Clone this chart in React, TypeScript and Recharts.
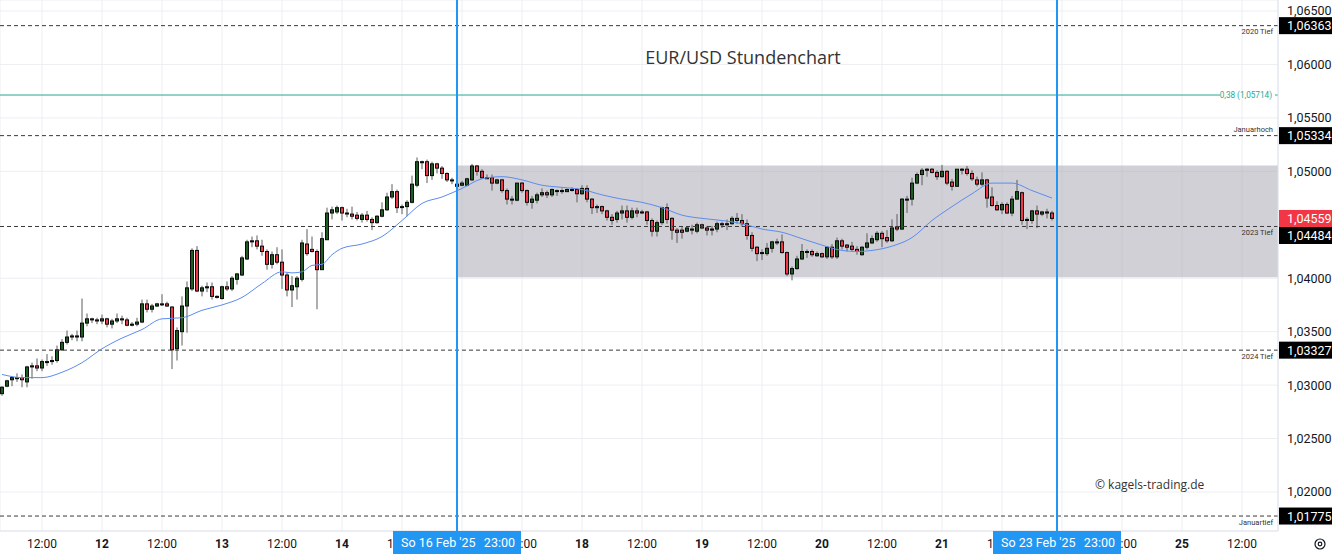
import React from 'react';
import {
  ComposedChart,
  Bar,
  Line,
  XAxis,
  YAxis,
  CartesianGrid,
  ReferenceLine,
  ReferenceArea,
} from 'recharts';

// ---------- DATA (EUR/USD hourly candles) ----------
const opens = [
  1.0292, 1.0299, 1.0305, 1.0306, 1.0307, 1.0303, 1.0317, 1.0318, 1.0316, 1.0322,
  1.0322, 1.0323, 1.0333, 1.0340, 1.0345, 1.0345, 1.0345, 1.0358, 1.0362, 1.0361,
  1.0360, 1.0362, 1.0357, 1.0360, 1.0362, 1.0361, 1.0356, 1.0357, 1.0359, 1.0376,
  1.0371, 1.0374, 1.0376, 1.0376, 1.0373, 1.0334, 1.0350, 1.0374, 1.0390, 1.0426,
  1.0388, 1.0391, 1.0392, 1.0383, 1.0381, 1.0392, 1.0390, 1.0399, 1.0403, 1.0418,
  1.0434, 1.0435, 1.0430, 1.0425, 1.0413, 1.0422, 1.0415, 1.0403, 1.0389, 1.0392,
  1.0399, 1.0432, 1.0427, 1.0425, 1.0408, 1.0436, 1.0461, 1.0462, 1.0466, 1.0461,
  1.0460, 1.0459, 1.0455, 1.0459, 1.0455, 1.0452, 1.0458, 1.0464, 1.0476, 1.0481,
  1.0467, 1.0467, 1.0471, 1.0487, 1.0509, 1.0509, 1.0496, 1.0507, 1.0503, 1.0498,
  1.0492, 1.0486, 1.0487, 1.0487, 1.0492, 1.0505, 1.0500, 1.0494, 1.0494, 1.0489,
  1.0492, 1.0482, 1.0474, 1.0473, 1.0489, 1.0482, 1.0471, 1.0473, 1.0478, 1.0480,
  1.0478, 1.0482, 1.0482, 1.0481, 1.0483, 1.0483, 1.0479, 1.0484, 1.0474, 1.0466,
  1.0467, 1.0463, 1.0457, 1.0455, 1.0461, 1.0463, 1.0457, 1.0463, 1.0462, 1.0462,
  1.0454, 1.0444, 1.0452, 1.0466, 1.0456, 1.0445, 1.0445, 1.0444, 1.0446, 1.0444,
  1.0450, 1.0447, 1.0445, 1.0446, 1.0451, 1.0450, 1.0451, 1.0456, 1.0454, 1.0451,
  1.0440, 1.0429, 1.0424, 1.0423, 1.0428, 1.0434, 1.0434, 1.0424, 1.0404, 1.0409,
  1.0418, 1.0425, 1.0425, 1.0421, 1.0423, 1.0420, 1.0429, 1.0420, 1.0435, 1.0431,
  1.0430, 1.0427, 1.0422, 1.0429, 1.0433, 1.0436, 1.0442, 1.0438, 1.0435, 1.0448,
  1.0446, 1.0474, 1.0474, 1.0489, 1.0497, 1.0501, 1.0502, 1.0499, 1.0495, 1.0500,
  1.0490, 1.0486, 1.0502, 1.0502, 1.0498, 1.0492, 1.0488, 1.0492, 1.0476, 1.0468,
  1.0464, 1.0469, 1.0461, 1.0474, 1.0480, 1.0454, 1.0454, 1.0463, 1.0460, 1.0462,
  1.0461,
];
const highs = [
  1.0299, 1.0305, 1.0308, 1.0311, 1.0310, 1.0318, 1.0321, 1.0325, 1.0324, 1.0329,
  1.0327, 1.0337, 1.0343, 1.0351, 1.0348, 1.0351, 1.0381, 1.0367, 1.0363, 1.0363,
  1.0366, 1.0363, 1.0362, 1.0367, 1.0365, 1.0363, 1.0359, 1.0363, 1.0380, 1.0380,
  1.0376, 1.0377, 1.0385, 1.0378, 1.0374, 1.0354, 1.0383, 1.0397, 1.0428, 1.0430,
  1.0393, 1.0396, 1.0396, 1.0384, 1.0393, 1.0397, 1.0402, 1.0405, 1.0421, 1.0436,
  1.0439, 1.0440, 1.0436, 1.0427, 1.0425, 1.0429, 1.0427, 1.0405, 1.0402, 1.0402,
  1.0436, 1.0446, 1.0439, 1.0427, 1.0443, 1.0466, 1.0467, 1.0468, 1.0467, 1.0465,
  1.0467, 1.0462, 1.0461, 1.0463, 1.0457, 1.0459, 1.0471, 1.0480, 1.0488, 1.0483,
  1.0469, 1.0473, 1.0496, 1.0513, 1.0510, 1.0511, 1.0509, 1.0508, 1.0505, 1.0499,
  1.0494, 1.0489, 1.0491, 1.0494, 1.0507, 1.0506, 1.0502, 1.0497, 1.0497, 1.0493,
  1.0493, 1.0484, 1.0477, 1.0489, 1.0490, 1.0483, 1.0477, 1.0480, 1.0484, 1.0482,
  1.0484, 1.0483, 1.0484, 1.0484, 1.0485, 1.0484, 1.0487, 1.0487, 1.0475, 1.0469,
  1.0468, 1.0464, 1.0460, 1.0463, 1.0468, 1.0468, 1.0466, 1.0466, 1.0464, 1.0463,
  1.0456, 1.0454, 1.0467, 1.0470, 1.0457, 1.0447, 1.0448, 1.0448, 1.0450, 1.0452,
  1.0451, 1.0449, 1.0449, 1.0453, 1.0453, 1.0455, 1.0458, 1.0461, 1.0460, 1.0455,
  1.0443, 1.0430, 1.0427, 1.0433, 1.0435, 1.0437, 1.0441, 1.0425, 1.0411, 1.0421,
  1.0432, 1.0427, 1.0427, 1.0425, 1.0424, 1.0430, 1.0432, 1.0438, 1.0437, 1.0432,
  1.0434, 1.0430, 1.0430, 1.0442, 1.0440, 1.0444, 1.0444, 1.0445, 1.0455, 1.0460,
  1.0475, 1.0477, 1.0494, 1.0499, 1.0503, 1.0503, 1.0503, 1.0501, 1.0506, 1.0501,
  1.0493, 1.0502, 1.0503, 1.0505, 1.0501, 1.0495, 1.0499, 1.0493, 1.0485, 1.0472,
  1.0471, 1.0471, 1.0477, 1.0492, 1.0481, 1.0457, 1.0464, 1.0468, 1.0463, 1.0465,
  1.0463,
];
const lows = [
  1.0290, 1.0298, 1.0299, 1.0303, 1.0298, 1.0298, 1.0306, 1.0313, 1.0313, 1.0318,
  1.0319, 1.0321, 1.0332, 1.0338, 1.0342, 1.0341, 1.0341, 1.0355, 1.0358, 1.0357,
  1.0357, 1.0354, 1.0353, 1.0358, 1.0357, 1.0355, 1.0355, 1.0355, 1.0358, 1.0368,
  1.0368, 1.0373, 1.0374, 1.0373, 1.0315, 1.0323, 1.0337, 1.0349, 1.0388, 1.0387,
  1.0383, 1.0387, 1.0380, 1.0381, 1.0380, 1.0388, 1.0388, 1.0394, 1.0402, 1.0417,
  1.0429, 1.0427, 1.0421, 1.0408, 1.0409, 1.0413, 1.0390, 1.0383, 1.0373, 1.0380,
  1.0397, 1.0421, 1.0424, 1.0371, 1.0408, 1.0436, 1.0455, 1.0460, 1.0454, 1.0457,
  1.0455, 1.0454, 1.0452, 1.0453, 1.0445, 1.0451, 1.0457, 1.0463, 1.0474, 1.0461,
  1.0460, 1.0458, 1.0470, 1.0485, 1.0502, 1.0489, 1.0492, 1.0498, 1.0493, 1.0490,
  1.0488, 1.0485, 1.0486, 1.0486, 1.0491, 1.0496, 1.0493, 1.0493, 1.0482, 1.0488,
  1.0480, 1.0469, 1.0469, 1.0472, 1.0480, 1.0468, 1.0465, 1.0470, 1.0476, 1.0475,
  1.0476, 1.0477, 1.0479, 1.0481, 1.0481, 1.0471, 1.0478, 1.0471, 1.0460, 1.0461,
  1.0460, 1.0454, 1.0450, 1.0452, 1.0455, 1.0452, 1.0455, 1.0457, 1.0460, 1.0450,
  1.0439, 1.0439, 1.0450, 1.0451, 1.0436, 1.0433, 1.0437, 1.0443, 1.0441, 1.0442,
  1.0446, 1.0440, 1.0440, 1.0443, 1.0447, 1.0445, 1.0450, 1.0451, 1.0448, 1.0436,
  1.0425, 1.0416, 1.0417, 1.0421, 1.0424, 1.0431, 1.0423, 1.0402, 1.0398, 1.0408,
  1.0417, 1.0419, 1.0420, 1.0420, 1.0419, 1.0418, 1.0418, 1.0418, 1.0427, 1.0425,
  1.0425, 1.0422, 1.0421, 1.0427, 1.0432, 1.0434, 1.0429, 1.0433, 1.0434, 1.0444,
  1.0445, 1.0461, 1.0468, 1.0488, 1.0487, 1.0495, 1.0498, 1.0492, 1.0494, 1.0487,
  1.0482, 1.0486, 1.0497, 1.0496, 1.0491, 1.0486, 1.0486, 1.0466, 1.0467, 1.0463,
  1.0460, 1.0460, 1.0458, 1.0474, 1.0450, 1.0446, 1.0451, 1.0447, 1.0458, 1.0456,
  1.0454,
];
const closes = [
  1.0298, 1.0304, 1.0307, 1.0307, 1.0305, 1.0317, 1.0318, 1.0316, 1.0322, 1.0322,
  1.0323, 1.0333, 1.0340, 1.0345, 1.0346, 1.0346, 1.0358, 1.0362, 1.0361, 1.0360,
  1.0362, 1.0357, 1.0360, 1.0362, 1.0361, 1.0356, 1.0357, 1.0359, 1.0376, 1.0371,
  1.0374, 1.0376, 1.0376, 1.0374, 1.0333, 1.0351, 1.0374, 1.0391, 1.0426, 1.0388,
  1.0391, 1.0392, 1.0383, 1.0383, 1.0392, 1.0390, 1.0400, 1.0404, 1.0419, 1.0434,
  1.0435, 1.0430, 1.0425, 1.0413, 1.0422, 1.0415, 1.0403, 1.0389, 1.0393, 1.0400,
  1.0433, 1.0423, 1.0425, 1.0408, 1.0437, 1.0461, 1.0464, 1.0466, 1.0461, 1.0461,
  1.0458, 1.0456, 1.0459, 1.0455, 1.0452, 1.0458, 1.0464, 1.0476, 1.0481, 1.0466,
  1.0467, 1.0471, 1.0488, 1.0509, 1.0509, 1.0496, 1.0507, 1.0503, 1.0498, 1.0492,
  1.0491, 1.0488, 1.0489, 1.0493, 1.0505, 1.0500, 1.0494, 1.0494, 1.0489, 1.0492,
  1.0482, 1.0474, 1.0474, 1.0489, 1.0482, 1.0471, 1.0474, 1.0478, 1.0480, 1.0478,
  1.0483, 1.0482, 1.0482, 1.0483, 1.0483, 1.0479, 1.0484, 1.0474, 1.0466, 1.0467,
  1.0463, 1.0457, 1.0454, 1.0461, 1.0463, 1.0457, 1.0463, 1.0461, 1.0462, 1.0454,
  1.0444, 1.0452, 1.0466, 1.0455, 1.0445, 1.0443, 1.0443, 1.0447, 1.0445, 1.0450,
  1.0447, 1.0445, 1.0446, 1.0451, 1.0450, 1.0451, 1.0456, 1.0454, 1.0451, 1.0440,
  1.0428, 1.0423, 1.0424, 1.0428, 1.0434, 1.0434, 1.0424, 1.0404, 1.0409, 1.0418,
  1.0425, 1.0425, 1.0422, 1.0423, 1.0420, 1.0429, 1.0420, 1.0435, 1.0430, 1.0429,
  1.0427, 1.0425, 1.0429, 1.0433, 1.0437, 1.0442, 1.0437, 1.0435, 1.0447, 1.0446,
  1.0474, 1.0474, 1.0489, 1.0497, 1.0501, 1.0502, 1.0499, 1.0495, 1.0500, 1.0489,
  1.0486, 1.0502, 1.0502, 1.0498, 1.0493, 1.0488, 1.0492, 1.0475, 1.0468, 1.0464,
  1.0469, 1.0461, 1.0474, 1.0481, 1.0454, 1.0455, 1.0463, 1.0460, 1.0462, 1.0461,
  1.0456,
];

// moving average, read at every few candles (candle number -> value)
const maCandles = [
  1, 5, 9, 13, 17, 21, 25, 29, 33, 37, 41, 45, 49, 53, 57, 59, 61, 63, 65, 67, 69,
  73, 77, 81, 85, 89, 93, 97, 101, 105, 109, 113, 117, 121, 125, 129, 133, 137,
  141, 145, 149, 153, 157, 161, 165, 169, 172, 175, 179, 183, 187, 191, 195, 199,
  203, 207, 211,
];
const maValues = [
  1.0310, 1.0307, 1.0307, 1.0312, 1.0321, 1.0334, 1.0344, 1.0352, 1.0362, 1.0363,
  1.0370, 1.0375, 1.0382, 1.0395, 1.0406, 1.0405, 1.0406, 1.0412, 1.0413, 1.0422,
  1.0428, 1.0432, 1.0439, 1.0454, 1.0470, 1.0476, 1.0484, 1.0493, 1.0495, 1.0492,
  1.0487, 1.0485, 1.0483, 1.0478, 1.0474, 1.0471, 1.0466, 1.0459, 1.0456, 1.0454,
  1.0451, 1.0446, 1.0443, 1.0437, 1.0431, 1.0426, 1.0425, 1.0426, 1.0430, 1.0438,
  1.0454, 1.0467, 1.0479, 1.0489, 1.0489, 1.0482, 1.0475,
];

// time axis: hourly slots (weekend removed); the day labels under the date markers are hidden
const tickSlots = [8, 20, 32, 44, 56, 68, 80, 92, 104, 116, 128, 140, 152, 164, 176, 188, 200, 212, 224, 236, 248];
const tickLabels = [
  '12:00', '12', '12:00', '13', '12:00', '14', '12:00', '', '12:00', '18', '12:00',
  '19', '12:00', '20', '12:00', '21', '12:00', '', '12:00', '25', '12:00',
];

const priceTicks = [1.02, 1.025, 1.03, 1.035, 1.04, 1.05, 1.055, 1.06, 1.065];
const levelPrices = [1.06363, 1.05334, 1.04484, 1.03327, 1.01775];
const levelNames = ['2020 Tief', 'Januarhoch', '2023 Tief', '2024 Tief', 'Januartief'];
const fibPrice = 1.05714;
const fibText = '0,38 (1,05714)';
const lastPrice = 1.04559;
const bandLow = 1.0401;
const bandHigh = 1.05055;
const markerSlots = [91, 211];
const markerDates = ["So 16 Feb '25", "So 23 Feb '25"];
const markerTime = '23:00';
const titleText = 'EUR/USD Stundenchart';
const copyrightText = '© kagels-trading.de';

// ---------- chart ----------
const W = 1332;
const H = 556;
const AXIS_W = 54;
const AXIS_H = 25;
const X_DOMAIN: [number, number] = [-0.4, 255.2];
const Y_DOMAIN: [number, number] = [1.01635, 1.06603];
const FONT = 'Roboto, "Liberation Sans", Arial, sans-serif';
const MARGIN = { top: 0, right: 0, bottom: 0, left: 0 };

const data = opens.map((o, i) => ({
  slot: i,
  o,
  h: highs[i],
  l: lows[i],
  c: closes[i],
  range: [lows[i], highs[i]],
  ma: null as number | null,
}));
maCandles.forEach((n, k) => {
  data[n - 1].ma = maValues[k];
});

const fmt = (p: number) => p.toFixed(5).replace('.', ',');

const Candle = (props: any) => {
  let { x, y, width, height, payload } = props;
  if (height < 0) {
    y += height;
    height = -height;
  }
  const { o, h, l, c } = payload;
  const cx = Math.round(x + width / 2);
  const span = h - l;
  const py = (v: number) => (span > 0 ? y + ((h - v) / span) * height : y);
  const up = c >= o;
  const top = py(Math.max(o, c));
  const bot = py(Math.min(o, c));
  const bh = Math.max(1, bot - top);
  return (
    <g>
      <line x1={cx} x2={cx} y1={y} y2={y + height} stroke="#5d5d5d" strokeWidth={1} />
      <rect
        x={cx - 1.5}
        y={top}
        width={3}
        height={bh}
        fill={up ? '#1b5e20' : '#f23645'}
        stroke="#0b0b0b"
        strokeWidth={1}
      />
    </g>
  );
};

const XTick = (props: any) => {
  const { x, y, payload } = props;
  const idx = tickSlots.indexOf(payload.value);
  const label = idx >= 0 ? tickLabels[idx] : '';
  if (!label) return <g />;
  const isDay = label.indexOf(':') < 0;
  return (
    <text
      x={x}
      y={y}
      dy={9}
      textAnchor="middle"
      fontSize={12}
      fontFamily={FONT}
      fontWeight={isDay ? 700 : 400}
      fill="#131722"
    >
      {label}
    </text>
  );
};

const LevelLabel = (props: any) => {
  const { viewBox, name, price, boxShift } = props;
  const { x, y, width } = viewBox;
  const right = x + width;
  const above = name === 'Januarhoch';
  return (
    <g>
      <text
        x={right - 5}
        y={above ? y - 4 : y + 8.5}
        textAnchor="end"
        fontSize={7.5}
        fontFamily={FONT}
        fill="#333"
      >
        {name}
      </text>
      <rect x={right + 1} y={y - 8.5 + boxShift} width={AXIS_W} height={17} fill="#000" />
      <text
        x={right + 9}
        y={y + 4.5 + boxShift}
        fontSize={12.5}
        fontFamily={FONT}
        fill="#fff"
      >
        {fmt(price)}
      </text>
    </g>
  );
};

const LastLabel = (props: any) => {
  const { viewBox, price } = props;
  const { x, y, width } = viewBox;
  const right = x + width;
  return (
    <g>
      <rect x={right + 1} y={y - 8.5} width={AXIS_W} height={17} fill="#f23645" />
      <text x={right + 9} y={y + 4.5} fontSize={12.5} fontFamily={FONT} fill="#fff">
        {fmt(price)}
      </text>
    </g>
  );
};

const FibLabel = (props: any) => {
  const { viewBox, text } = props;
  const { y } = viewBox;
  const end = W - AXIS_W;
  return (
    <g>
      <text x={end - 6} y={y + 3} textAnchor="end" fontSize={8.2} fontFamily={FONT} fill="#22ab94">
        {text}
      </text>
      <line x1={end - 3} x2={end} y1={y} y2={y} stroke="#22ab94" strokeWidth={1} />
    </g>
  );
};

const MarkerLabel = (props: any) => {
  const { viewBox, date } = props;
  const { x, y, height } = viewBox;
  const bottom = y + height;
  return (
    <g>
      <rect x={x - 64} y={bottom} width={128} height={23} fill="#2196f3" />
      <text x={x - 56} y={bottom + 16} fontSize={12.5} fontFamily={FONT} fill="#fff">
        {date}
      </text>
      <text x={x + 58} y={bottom + 16} textAnchor="end" fontSize={12.5} fontFamily={FONT} fill="#fff">
        {markerTime}
      </text>
    </g>
  );
};

export default function App() {
  return (
    <div style={{ position: 'absolute', left: 0, top: 0, width: W, height: H, background: '#fff' }}>
      <ComposedChart width={W} height={H} data={data} margin={MARGIN}>
        <CartesianGrid stroke="#eceef2" strokeWidth={1} />
        <XAxis
          dataKey="slot"
          type="number"
          domain={X_DOMAIN}
          allowDataOverflow
          ticks={tickSlots}
          tick={<XTick />}
          tickLine={false}
          axisLine={{ stroke: '#e0e3eb' }}
          height={AXIS_H}
          interval={0}
        />
        <YAxis
          orientation="right"
          type="number"
          domain={Y_DOMAIN}
          allowDataOverflow
          ticks={priceTicks}
          width={AXIS_W}
          tickLine={false}
          tickSize={0}
          tickMargin={9}
          axisLine={{ stroke: '#e0e3eb' }}
          tick={{ fontSize: 12.5, fontFamily: FONT, fill: '#131722', textAnchor: 'start' }}
          tickFormatter={(v: number) => fmt(v)}
          interval={0}
        />
        <ReferenceArea
          x1={markerSlots[0]}
          x2={X_DOMAIN[1]}
          y1={bandLow}
          y2={bandHigh}
          fill="#a3a1ad"
          fillOpacity={0.5}
          stroke="none"
          ifOverflow="visible"
        />
        {levelPrices.map((p, i) => (
          <ReferenceLine
            key={levelNames[i]}
            y={p}
            stroke="#3a3a3a"
            strokeDasharray="4 3"
            strokeWidth={1}
            label={<LevelLabel name={levelNames[i]} price={p} boxShift={levelNames[i] === '2023 Tief' ? 9 : 0} />}
          />
        ))}
        <ReferenceLine
          segment={[
            { x: X_DOMAIN[0], y: fibPrice },
            { x: 243.6, y: fibPrice },
          ]}
          stroke="#22ab94"
          strokeWidth={1}
          ifOverflow="visible"
        />
        <ReferenceLine y={fibPrice} stroke="none" label={<FibLabel text={fibText} />} />
        <Bar dataKey="range" barSize={5} shape={<Candle />} isAnimationActive={false} />
        <Line
          dataKey="ma"
          type="monotone"
          stroke="#5d8cf0"
          strokeWidth={1}
          dot={false}
          activeDot={false}
          connectNulls
          isAnimationActive={false}
        />
        <ReferenceLine y={lastPrice} stroke="none" label={<LastLabel price={lastPrice} />} />
        {markerSlots.map((s) => (
          <ReferenceLine key={s} x={s} stroke="#2196f3" strokeWidth={2} />
        ))}
      </ComposedChart>

      {/* overlay chart with the same scales: date markers drawn above the time axis */}
      <div style={{ position: 'absolute', left: 0, top: 0, pointerEvents: 'none' }}>
        <ComposedChart width={W} height={H} data={data} margin={MARGIN}>
          <XAxis
            dataKey="slot"
            type="number"
            domain={X_DOMAIN}
            allowDataOverflow
            ticks={tickSlots}
            tick={false}
            tickLine={false}
            axisLine={false}
            height={AXIS_H}
          />
          <YAxis
            orientation="right"
            type="number"
            domain={Y_DOMAIN}
            allowDataOverflow
            width={AXIS_W}
            tick={false}
            tickLine={false}
            axisLine={false}
          />
          {markerSlots.map((s, i) => (
            <ReferenceLine
              key={s}
              x={s}
              stroke="#2196f3"
              strokeWidth={2}
              label={<MarkerLabel date={markerDates[i]} />}
            />
          ))}
        </ComposedChart>
      </div>

      <div
        style={{
          position: 'absolute',
          left: 580,
          width: 326,
          top: 45,
          textAlign: 'center',
          fontFamily: '"Open Sans", sans-serif',
          fontSize: 18,
          color: '#333',
          pointerEvents: 'none',
          whiteSpace: 'nowrap',
        }}
      >
        {titleText}
      </div>
      <div
        style={{
          position: 'absolute',
          left: 1095,
          top: 476,
          fontFamily: '"Open Sans", sans-serif',
          fontSize: 12,
          color: '#333',
          whiteSpace: 'nowrap',
        }}
      >
        {copyrightText}
      </div>
      <svg style={{ position: 'absolute', left: 1312, top: 536 }} width={16} height={16}>
        <circle cx={8} cy={8} r={5} fill="none" stroke="#131722" strokeWidth={1.2} />
        <circle cx={8} cy={8} r={1.8} fill="none" stroke="#131722" strokeWidth={1.2} />
      </svg>
    </div>
  );
}
